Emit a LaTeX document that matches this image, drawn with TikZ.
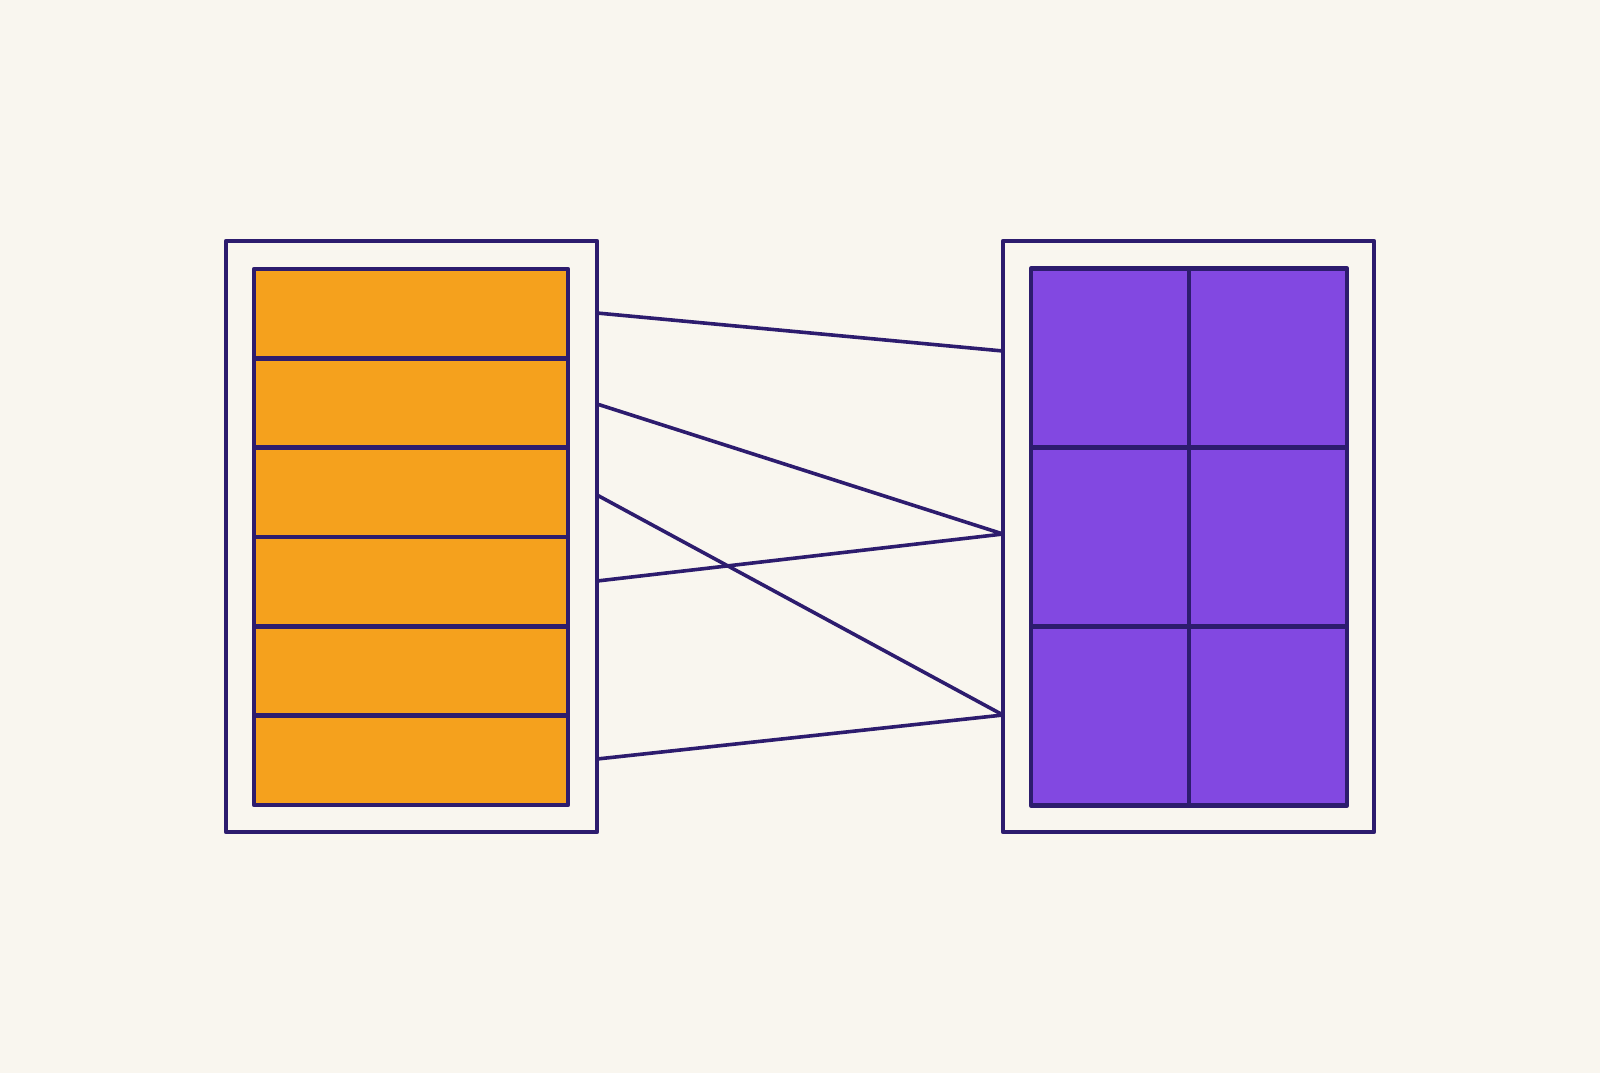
\documentclass[tikz,border=0pt]{standalone}
\definecolor{bgc}{HTML}{F9F6EF}
\definecolor{ink}{HTML}{2D1C6E}
\definecolor{orng}{HTML}{F5A11D}
\definecolor{purp}{HTML}{8248E1}
\begin{document}
\begin{tikzpicture}[x=0.5pt,y=-0.5pt,
  frame/.style={draw=ink,line width=2.2pt,fill=bgc,rectangle,inner sep=0pt,outer sep=0pt,line join=round},
  ocell/.style={draw=ink,line width=2.4pt,fill=orng,rectangle,inner sep=0pt,outer sep=0pt,minimum width=157pt,minimum height=44.67pt,line join=round},
  pcell/.style={draw=ink,line width=2.4pt,fill=purp,rectangle,inner sep=0pt,outer sep=0pt,minimum width=79pt,minimum height=89.5pt,line join=round},
  link/.style={draw=ink,line width=1.8pt,line cap=round}]
\fill[bgc] (0,0) rectangle (1600,1073);
\useasboundingbox (0,0) rectangle (1600,1073);
% outer frames
\node[frame,minimum width=185.5pt,minimum height=295.5pt] (lbox) at (411.5,536.5) {};
\node[frame,minimum width=185.5pt,minimum height=295.5pt] (rbox) at (1188.5,536.5) {};
% left orange rows
\foreach \i in {1,...,6}{
  \node[ocell] (l\i) at (411,{269+(\i-0.5)*89.33}) {};
}
% right purple grid
\foreach \r in {1,2,3}{
  \node[pcell] (ra\r) at (1110,{269+(\r-0.5)*178.67}) {};
  \node[pcell] (rb\r) at (1268,{269+(\r-0.5)*178.67}) {};
}
% attachment points
\coordinate (s1) at (lbox.east |- 0,313);
\coordinate (s2) at (lbox.east |- 0,404);
\coordinate (s3) at (lbox.east |- 0,495);
\coordinate (s4) at (lbox.east |- 0,581);
\coordinate (s6) at (lbox.east |- 0,759);
\coordinate (t1) at (rbox.west |- 0,351);
\coordinate (t2) at (rbox.west |- 0,534);
\coordinate (t3) at (rbox.west |- 0,715);
\draw[link] (s1) -- (t1);
\draw[link] (s2) -- (t2);
\draw[link] (s3) -- (t3);
\draw[link] (s4) -- (t2);
\draw[link] (s6) -- (t3);
\end{tikzpicture}
\end{document}
